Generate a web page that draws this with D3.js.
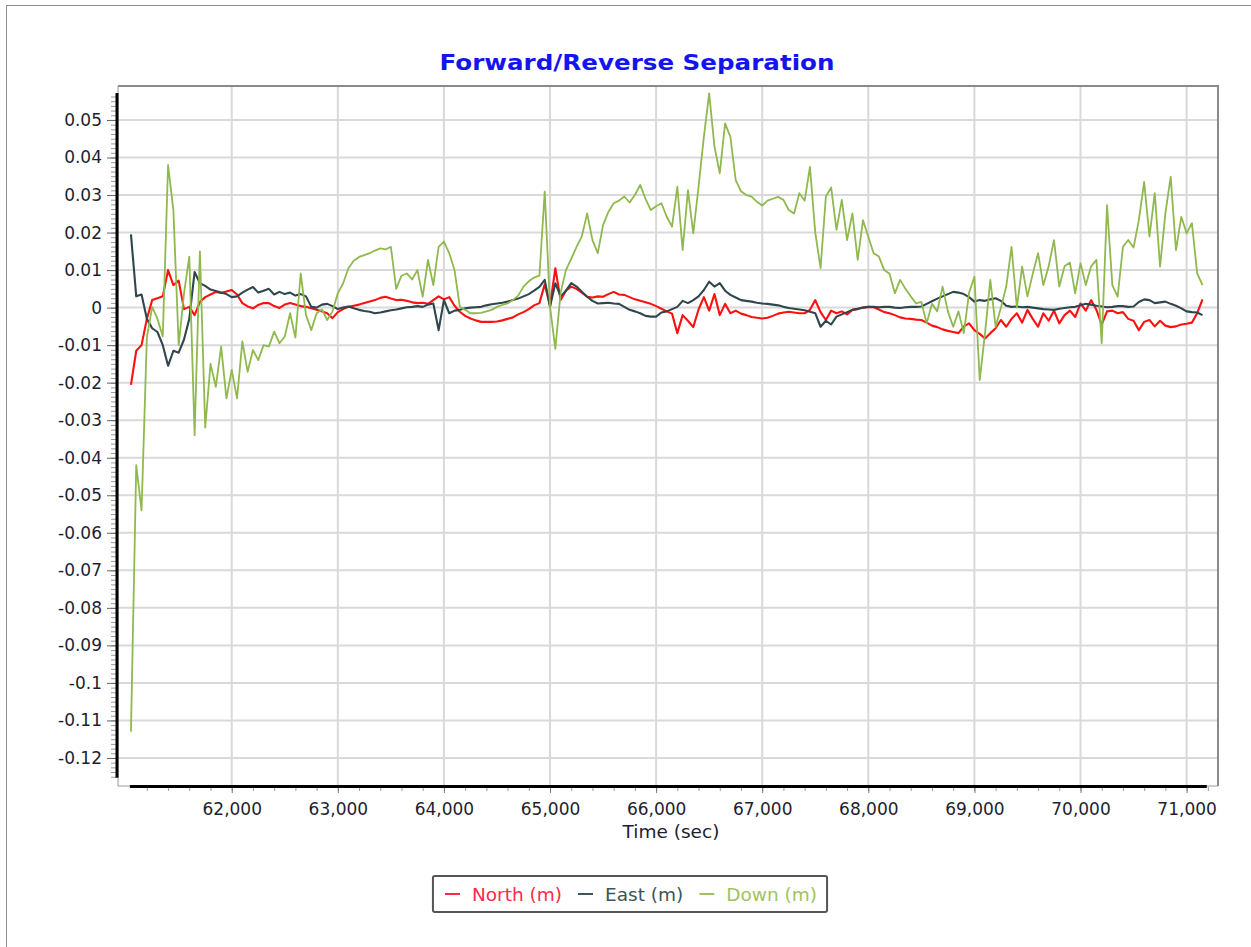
<!DOCTYPE html>
<html>
<head>
<meta charset="utf-8">
<title>Forward/Reverse Separation</title>
<script src="https://cdn.jsdelivr.net/npm/d3@7"></script>
<style>
  body { margin: 0; background: #fff; }
  svg text { font-family: "DejaVu Sans", Verdana, sans-serif; }
</style>
</head>
<body>
<div id="chart"></div>
<script>
// epochs every 50 s starting at 61050 s
var tStart = 61050, tStep = 50;

var north = [
  -0.0206,-0.0115,-0.0100,-0.0030, 0.0020, 0.0025, 0.0030, 0.0100, 0.0060, 0.0072,
  -0.0004, 0.0002,-0.0020, 0.0015, 0.0028, 0.0035, 0.0042, 0.0039, 0.0043, 0.0047,
   0.0035, 0.0012, 0.0003,-0.0002, 0.0007, 0.0012, 0.0012, 0.0004,-0.0001, 0.0008,
   0.0012, 0.0008, 0.0004, 0.0002,-0.0002,-0.0006,-0.0010,-0.0015,-0.0028,-0.0012,
  -0.0004, 0.0002, 0.0005, 0.0008, 0.0012, 0.0016, 0.0020, 0.0026, 0.0029, 0.0024,
   0.0020, 0.0021, 0.0018, 0.0014, 0.0012, 0.0013, 0.0010, 0.0020, 0.0030, 0.0022,
   0.0028, 0.0005,-0.0011,-0.0022,-0.0029,-0.0034,-0.0038,-0.0038,-0.0038,-0.0037,
  -0.0034,-0.0030,-0.0026,-0.0018,-0.0012,-0.0004, 0.0006, 0.0012, 0.0062, 0.0004,
   0.0105, 0.0020, 0.0045, 0.0056, 0.0050, 0.0040, 0.0029, 0.0027, 0.0030, 0.0029,
   0.0036, 0.0042, 0.0035, 0.0034, 0.0028, 0.0022, 0.0018, 0.0014, 0.0010, 0.0004,
  -0.0003,-0.0010,-0.0016,-0.0068,-0.0020,-0.0035,-0.0052,-0.0005, 0.0028,-0.0008,
   0.0036,-0.0020, 0.0010,-0.0015,-0.0008,-0.0016,-0.0020,-0.0025,-0.0027,-0.0029,
  -0.0027,-0.0022,-0.0016,-0.0013,-0.0011,-0.0013,-0.0015,-0.0015,-0.0006, 0.0020,
  -0.0012,-0.0033,-0.0008,-0.0015,-0.0010,-0.0018,-0.0006,-0.0004, 0.0000, 0.0002,
   0.0001,-0.0005,-0.0012,-0.0015,-0.0020,-0.0026,-0.0029,-0.0030,-0.0032,-0.0033,
  -0.0040,-0.0048,-0.0052,-0.0058,-0.0062,-0.0065,-0.0068,-0.0050,-0.0042,-0.0060,
  -0.0070,-0.0082,-0.0068,-0.0055,-0.0033,-0.0051,-0.0030,-0.0015,-0.0040,-0.0006,
  -0.0030,-0.0051,-0.0015,-0.0035,-0.0008,-0.0042,-0.0020,-0.0008,-0.0025, 0.0011,
  -0.0008, 0.0020,-0.0006,-0.0045,-0.0010,-0.0008,-0.0015,-0.0012,-0.0030,-0.0035,
  -0.0060,-0.0038,-0.0033,-0.0050,-0.0035,-0.0048,-0.0052,-0.0050,-0.0045,-0.0043,
  -0.0040,-0.0015, 0.0022
];

var east = [
   0.0195, 0.0030, 0.0035,-0.0030,-0.0055,-0.0065,-0.0100,-0.0155,-0.0115,-0.0120,
  -0.0085,-0.0030, 0.0095, 0.0065, 0.0058, 0.0048, 0.0044, 0.0040, 0.0036, 0.0028,
   0.0030, 0.0040, 0.0048, 0.0055, 0.0040, 0.0045, 0.0050, 0.0035, 0.0042, 0.0036,
   0.0040, 0.0032, 0.0036, 0.0030, 0.0002, 0.0000, 0.0008, 0.0010, 0.0004,-0.0004,
   0.0000, 0.0003,-0.0002,-0.0006,-0.0009,-0.0011,-0.0015,-0.0013,-0.0010,-0.0007,
  -0.0005,-0.0002, 0.0001, 0.0002, 0.0004, 0.0002, 0.0008, 0.0011,-0.0060, 0.0020,
  -0.0015,-0.0008,-0.0006,-0.0002, 0.0000, 0.0001, 0.0002, 0.0006, 0.0009, 0.0011,
   0.0013, 0.0016, 0.0020, 0.0024, 0.0030, 0.0036, 0.0045, 0.0055, 0.0074, 0.0002,
   0.0065, 0.0030, 0.0045, 0.0065, 0.0056, 0.0042, 0.0029, 0.0018, 0.0011, 0.0012,
   0.0013, 0.0011, 0.0010, 0.0002,-0.0006,-0.0010,-0.0015,-0.0022,-0.0024,-0.0024,
  -0.0013,-0.0010,-0.0004, 0.0002, 0.0018, 0.0012, 0.0020, 0.0030, 0.0047, 0.0069,
   0.0056, 0.0065, 0.0045, 0.0034, 0.0027, 0.0020, 0.0018, 0.0016, 0.0013, 0.0011,
   0.0010, 0.0008, 0.0006, 0.0002,-0.0001,-0.0003,-0.0005,-0.0007,-0.0011,-0.0015,
  -0.0051,-0.0035,-0.0045,-0.0024,-0.0018,-0.0012,-0.0006,-0.0003, 0.0000, 0.0002,
   0.0002, 0.0001, 0.0002, 0.0002, 0.0000,-0.0001, 0.0001, 0.0002, 0.0002, 0.0003,
   0.0010, 0.0017, 0.0024, 0.0030, 0.0036, 0.0042, 0.0040, 0.0036, 0.0028, 0.0016,
   0.0020, 0.0018, 0.0022, 0.0025, 0.0018, 0.0005, 0.0002, 0.0003, 0.0001, 0.0002,
   0.0000,-0.0002,-0.0004,-0.0005,-0.0006,-0.0003,-0.0001, 0.0001, 0.0002, 0.0006,
   0.0010, 0.0008, 0.0005, 0.0003, 0.0001, 0.0002, 0.0004, 0.0004, 0.0002, 0.0003,
   0.0015, 0.0022, 0.0020, 0.0012, 0.0014, 0.0016, 0.0010, 0.0005,-0.0002,-0.0010,
  -0.0012,-0.0013,-0.0020
];

var down = [
  -0.1130,-0.0420,-0.0540,-0.0080, 0.0002,-0.0030,-0.0077, 0.0380, 0.0260,-0.0100,
   0.0038, 0.0136,-0.0340, 0.0150,-0.0320,-0.0150,-0.0211,-0.0104,-0.0242,-0.0166,
  -0.0242,-0.0090,-0.0171,-0.0113,-0.0140,-0.0100,-0.0104,-0.0064,-0.0095,-0.0077,
  -0.0015,-0.0080, 0.0091,-0.0020,-0.0060,-0.0015,-0.0005,-0.0033,-0.0010, 0.0038,
   0.0065, 0.0105, 0.0125, 0.0135, 0.0140, 0.0145, 0.0152, 0.0158, 0.0155, 0.0162,
   0.0050, 0.0085, 0.0091, 0.0075, 0.0100, 0.0029, 0.0127, 0.0060, 0.0162, 0.0176,
   0.0145, 0.0100, 0.0002,-0.0006,-0.0015,-0.0015,-0.0014,-0.0010,-0.0006, 0.0002,
   0.0007, 0.0011, 0.0020, 0.0032, 0.0056, 0.0070, 0.0080, 0.0085, 0.0309, 0.0002,
  -0.0110, 0.0040, 0.0100, 0.0130, 0.0162, 0.0190, 0.0251, 0.0180, 0.0145, 0.0220,
   0.0255, 0.0278, 0.0285, 0.0296, 0.0280, 0.0300, 0.0327, 0.0290, 0.0260, 0.0270,
   0.0278, 0.0242, 0.0216, 0.0322, 0.0153, 0.0313, 0.0198, 0.0322, 0.0455, 0.0571,
   0.0429, 0.0358, 0.0491, 0.0455, 0.0340, 0.0310, 0.0300, 0.0296, 0.0282, 0.0272,
   0.0285, 0.0290, 0.0295, 0.0287, 0.0260, 0.0251, 0.0305, 0.0285, 0.0375, 0.0200,
   0.0105, 0.0296, 0.0320, 0.0207, 0.0287, 0.0180, 0.0251, 0.0127, 0.0233, 0.0189,
   0.0145, 0.0136, 0.0100, 0.0090, 0.0038, 0.0074, 0.0050, 0.0030, 0.0011, 0.0015,
  -0.0042, 0.0010,-0.0010, 0.0056,-0.0010,-0.0051,-0.0010,-0.0068, 0.0040, 0.0082,
  -0.0193,-0.0068, 0.0074,-0.0051, 0.0000, 0.0056, 0.0162, 0.0000, 0.0109, 0.0030,
   0.0090, 0.0145, 0.0060, 0.0110, 0.0180, 0.0056, 0.0110, 0.0120, 0.0038, 0.0118,
   0.0060, 0.0110, 0.0127,-0.0095, 0.0273, 0.0060, 0.0029, 0.0162, 0.0180, 0.0160,
   0.0233, 0.0335, 0.0189, 0.0305, 0.0109, 0.0251, 0.0349, 0.0153, 0.0242, 0.0198,
   0.0225, 0.0091, 0.0060
];

var seriesNames = ["North (m)", "East (m)", "Down (m)"];
var seriesColors = ["#ff1010", "#2f474c", "#8fb94e"];
var legendColors = ["#ff2a4a", "#3d5459", "#9fc45f"];

var xTicks = [62000, 63000, 64000, 65000, 66000, 67000, 68000, 69000, 70000, 71000];
var yTicks = [0.05, 0.04, 0.03, 0.02, 0.01, 0, -0.01, -0.02, -0.03, -0.04, -0.05,
              -0.06, -0.07, -0.08, -0.09, -0.1, -0.11, -0.12];

var W = 1251, H = 947;
var plot = {left: 118, top: 86, right: 1218, bottom: 786};

var svg = d3.select("#chart").append("svg")
  .attr("width", W).attr("height", H);

// outer border
svg.append("rect")
  .attr("x", 6.5).attr("y", 5.5)
  .attr("width", W).attr("height", H)
  .attr("fill", "none").attr("stroke", "#8c8c8c");

var x = d3.scaleLinear().domain([60928, 71296]).range([plot.left, plot.right]);
var y = d3.scaleLinear().domain([-0.12747, 0.05905]).range([plot.bottom, plot.top]);

// grid
var grid = svg.append("g").attr("class", "grid");
grid.selectAll("line.v").data(xTicks).enter().append("line")
  .attr("x1", function(d){ return x(d); }).attr("x2", function(d){ return x(d); })
  .attr("y1", plot.top).attr("y2", plot.bottom)
  .attr("stroke", "#d9d9d9").attr("stroke-width", 2);
grid.selectAll("line.h").data(yTicks).enter().append("line")
  .attr("x1", plot.left).attr("x2", plot.right)
  .attr("y1", function(d){ return y(d); }).attr("y2", function(d){ return y(d); })
  .attr("stroke", "#d9d9d9").attr("stroke-width", 2);

// plot frame
svg.append("path")
  .attr("d", "M" + plot.left + "," + plot.top + "H" + plot.right + "V" + plot.bottom)
  .attr("fill", "none").attr("stroke", "#8a8a8a").attr("stroke-width", 2);
svg.append("path")
  .attr("d", "M" + plot.left + "," + plot.top + "V" + plot.bottom + "H" + plot.right)
  .attr("fill", "none").attr("stroke", "#9a9a9a").attr("stroke-width", 1);

// data lines
svg.append("clipPath").attr("id", "clip").append("rect")
  .attr("x", plot.left).attr("y", plot.top)
  .attr("width", plot.right - plot.left).attr("height", plot.bottom - plot.top);

var line = d3.line()
  .x(function(d, i){ return x(tStart + i * tStep); })
  .y(function(d){ return y(d); });

var lines = svg.append("g").attr("clip-path", "url(#clip)");
[north, east, down].forEach(function(s, k){
  lines.append("path")
    .datum(s)
    .attr("d", line)
    .attr("fill", "none")
    .attr("stroke", seriesColors[k])
    .attr("stroke-width", k == 2 ? 1.8 : 2.1)
    .attr("stroke-linejoin", "round");
});

// axes: minor ticks, major ticks, labels
var xMinor = d3.range(61200, 71201, 200);
var yMinor = d3.range(-100, 46).map(function(k){ return k * 0.00125; });

svg.append("g")
  .attr("transform", "translate(0," + (plot.bottom + 1) + ")")
  .call(d3.axisBottom(x).tickValues(xMinor).tickSize(4).tickFormat(""))
  .call(function(g){ g.select(".domain").remove(); g.selectAll("line").attr("stroke", "#9a9a9a"); });

var xAxis = svg.append("g")
  .attr("transform", "translate(0," + (plot.bottom + 1) + ")")
  .call(d3.axisBottom(x).tickValues(xTicks).tickSize(6).tickPadding(10).tickFormat(d3.format(",")));
xAxis.select(".domain").remove();
xAxis.selectAll("line").attr("stroke", "#777");
xAxis.selectAll("text").attr("font-size", 17).attr("fill", "#1e1e30")
  .attr("font-family", "DejaVu Sans, Verdana, sans-serif");

svg.append("g")
  .attr("transform", "translate(" + (plot.left - 2) + ",0)")
  .call(d3.axisLeft(y).tickValues(yMinor).tickSize(5).tickFormat(""))
  .call(function(g){ g.select(".domain").remove(); g.selectAll("line").attr("stroke", "#9a9a9a"); });

var yAxis = svg.append("g")
  .attr("transform", "translate(" + (plot.left - 2) + ",0)")
  .call(d3.axisLeft(y).tickValues(yTicks).tickSize(9).tickPadding(5)
    .tickFormat(function(d){ return String(+d.toFixed(2)); }));
yAxis.select(".domain").remove();
yAxis.selectAll("line").attr("stroke", "#666");
yAxis.selectAll("text").attr("font-size", 17).attr("fill", "#1e1e30")
  .attr("font-family", "DejaVu Sans, Verdana, sans-serif");

// heavy axis lines over the data range
svg.append("line")
  .attr("x1", plot.left - 1).attr("x2", plot.left - 1)
  .attr("y1", y(0.0572)).attr("y2", y(-0.1253))
  .attr("stroke", "#000").attr("stroke-width", 3);
svg.append("line")
  .attr("x1", x(61040)).attr("x2", x(71190))
  .attr("y1", plot.bottom + 0.5).attr("y2", plot.bottom + 0.5)
  .attr("stroke", "#000").attr("stroke-width", 3);

// titles
svg.append("text")
  .attr("x", 637).attr("y", 70)
  .attr("text-anchor", "middle")
  .attr("font-size", 22).attr("font-weight", "bold")
  .attr("textLength", 395).attr("lengthAdjust", "spacingAndGlyphs")
  .attr("fill", "#1414f0")
  .text("Forward/Reverse Separation");

svg.append("text")
  .attr("x", (plot.left + plot.right) / 2 + 3).attr("y", 838)
  .attr("text-anchor", "middle")
  .attr("font-size", 18.5).attr("fill", "#1e1e30")
  .text("Time (sec)");

// legend
var legend = svg.append("g");
var box = legend.append("rect")
  .attr("fill", "#fff").attr("stroke", "#555").attr("stroke-width", 2).attr("rx", 2);
var lx = 0;
var items = seriesNames.map(function(name, k){
  var g = legend.append("g");
  g.append("line")
    .attr("x1", lx).attr("x2", lx + 15).attr("y1", 0).attr("y2", 0)
    .attr("stroke", legendColors[k]).attr("stroke-width", 2);
  var t = g.append("text")
    .attr("x", lx + 27).attr("y", 6.5)
    .attr("font-size", 18.5).attr("fill", legendColors[k])
    .text(name);
  lx += 27 + t.node().getComputedTextLength() + 16;
  return g;
});
var legendW = lx - 16;
var legendCx = 631, legendCy = 894;
legend.selectAll("g").attr("transform", "translate(" + (legendCx - legendW / 2) + "," + legendCy + ")");
box.attr("x", legendCx - legendW / 2 - 12).attr("y", 876)
  .attr("width", legendW + 22).attr("height", 36);
</script>
</body>
</html>
